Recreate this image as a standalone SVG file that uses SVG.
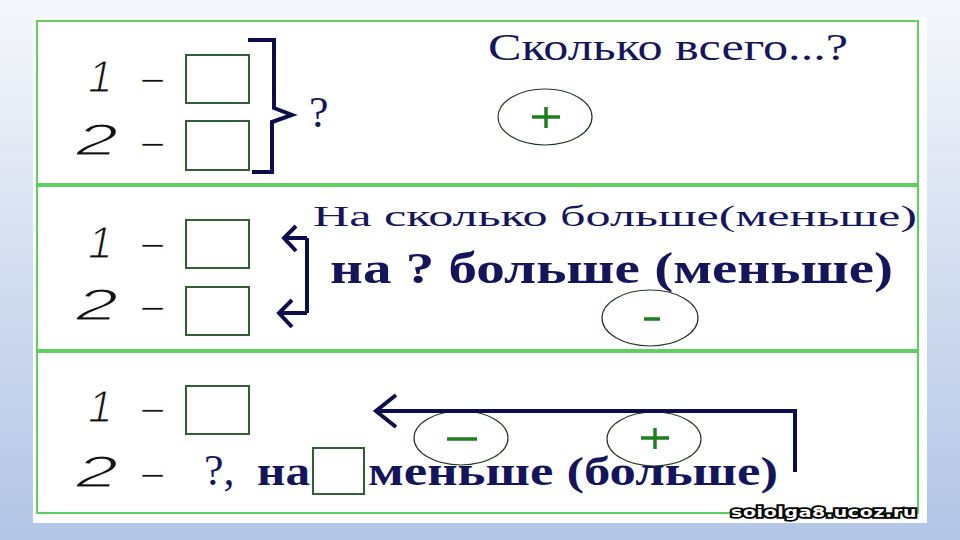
<svg xmlns="http://www.w3.org/2000/svg" width="960" height="540" viewBox="0 0 960 540">
<defs>
<linearGradient id="bg" x1="0" y1="0" x2="0" y2="1">
<stop offset="0" stop-color="#f6f7fb"/>
<stop offset="0.5" stop-color="#d3ddef"/>
<stop offset="1" stop-color="#b3c5e6"/>
</linearGradient>
<style>
.panel{fill:none;stroke:#5fcf5f;stroke-width:2}
.box{fill:#fff;stroke:#2f5f33;stroke-width:2}
.oval{fill:none;stroke:#203a20;stroke-width:1.2}
.sign{stroke:#1f7f1f;stroke-width:3.5;fill:none}
.navy{stroke:#0d0d4d;stroke-width:4;fill:none;stroke-linejoin:miter}
.digit{font-family:"Liberation Sans",Arial,sans-serif;font-style:italic;font-size:44px;fill:#111;stroke:#fff;stroke-width:1.2}
.dash{font-family:"Liberation Sans",Arial,sans-serif;font-size:38px;fill:#111;stroke:#fff;stroke-width:0.6}
.serif{font-family:"Liberation Serif","Times New Roman",serif;fill:#15155c}
.bold{font-weight:bold}
.wm{font-family:"DejaVu Sans",Verdana,sans-serif;font-weight:bold;font-size:14px;fill:#fff;stroke:#000;stroke-width:3.5;paint-order:stroke;letter-spacing:0.5px}
</style>
</defs>
<rect x="0" y="0" width="960" height="540" fill="url(#bg)"/>
<rect x="33" y="17" width="894" height="506" fill="#fff"/>

<g id="panels">
<rect class="panel" x="37" y="21" width="881" height="163"/>
<rect class="panel" x="37" y="186" width="881" height="164"/>
<rect class="panel" x="37" y="352" width="881" height="161"/>
</g>

<g id="row1">
<text class="digit" x="88" y="92">1</text>
<text class="dash" x="142" y="91">–</text>
<rect class="box" x="186" y="55" width="63" height="48"/>
<text class="digit" x="76" y="155" textLength="42" lengthAdjust="spacingAndGlyphs">2</text>
<text class="dash" x="142" y="155">–</text>
<rect class="box" x="186" y="121" width="63" height="49"/>
<text class="serif" x="309" y="127" font-size="44">?</text>
<text class="serif" x="488" y="60" font-size="38" textLength="360" lengthAdjust="spacingAndGlyphs">Сколько всего...?</text>
<g id="oval-plus-1">
<ellipse class="oval" cx="545" cy="117" rx="47" ry="28"/>
<path class="sign" d="M532 117H560M546 107V128"/>
</g>
</g>

<g id="row2">
<text class="digit" x="88" y="258">1</text>
<text class="dash" x="142" y="256">–</text>
<rect class="box" x="186" y="220" width="63" height="48"/>
<text class="digit" x="76" y="320" textLength="42" lengthAdjust="spacingAndGlyphs">2</text>
<text class="dash" x="142" y="319">–</text>
<rect class="box" x="186" y="287" width="63" height="48"/>
<text class="serif" x="313" y="226" font-size="30" textLength="604" lengthAdjust="spacingAndGlyphs">На сколько больше(меньше)</text>
<text class="serif bold" x="330" y="283" font-size="44" textLength="563" lengthAdjust="spacingAndGlyphs">на ? больше (меньше)</text>
<g id="oval-minus-2">
<ellipse class="oval" cx="650" cy="318" rx="48" ry="28"/>
<path class="sign" d="M644 319H660"/>
</g>
</g>

<g id="row3">
<text class="digit" x="88" y="422">1</text>
<text class="dash" x="142" y="421">–</text>
<rect class="box" x="186" y="386" width="63" height="48"/>
<text class="digit" x="76" y="487" textLength="42" lengthAdjust="spacingAndGlyphs">2</text>
<text class="dash" x="142" y="486">–</text>
<text class="serif" x="204" y="485" font-size="44">?,</text>
<text class="serif bold" x="257" y="485" font-size="40" textLength="53" lengthAdjust="spacingAndGlyphs">на</text>
<rect class="box" x="313" y="448" width="51" height="46"/>
<text class="serif bold" x="368" y="485" font-size="40" textLength="410" lengthAdjust="spacingAndGlyphs">меньше (больше)</text>
<g id="oval-minus-3">
<ellipse class="oval" cx="461" cy="438" rx="47" ry="27"/>
<path class="sign" d="M447 439H477"/>
</g>
<g id="oval-plus-3">
<ellipse class="oval" cx="654" cy="439" rx="47" ry="27"/>
<path class="sign" d="M641 438H669M655 428V449"/>
</g>
</g>

<g id="connectors">
<path class="navy" d="M248 40H274V108L292 115L272 122V172H252"/>
<path class="navy" d="M307 238V313M307 238H284M296 226L284 238L296 251M307 313H279M292 300L279 313L292 327"/>
<path class="navy" d="M795 472V411H376M396 395L376 411L396 427"/>
</g>

<text class="wm" x="731" y="517" textLength="186" lengthAdjust="spacingAndGlyphs">soiolga8.ucoz.ru</text>
</svg>
